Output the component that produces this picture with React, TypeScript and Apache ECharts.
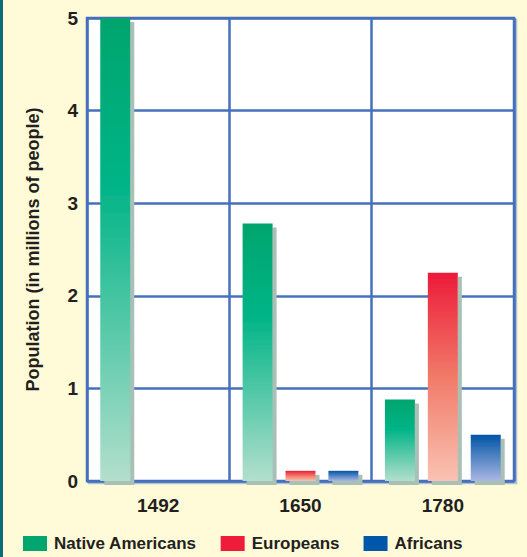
import React, { useEffect, useRef } from "react";
import * as echarts from "echarts";

const years = ["1492", "1650", "1780"];
const nativeAmericans = [5.0, 2.78, 0.88];
const europeans = [0, 0.11, 2.25];
const africans = [0, 0.11, 0.5];
const yTicks = [0, 1, 2, 3, 4, 5];
const yTitle = "Population (in millions of people)";

const FONT = "'Liberation Sans', Arial, sans-serif";
const TEXT = "#231f20";

function grad(stops: [number, string][]) {
  return new echarts.graphic.LinearGradient(
    0, 0, 0, 1,
    stops.map(([offset, color]) => ({ offset, color }))
  );
}

export default function App() {
  const ref = useRef<HTMLDivElement>(null);
  useEffect(() => {
    if (!ref.current) return;
    const chart = echarts.init(ref.current, null, { renderer: "svg" });
    const barCommon = {
      type: "bar" as const,
      barWidth: 30,
      barGap: "43%",
    };
    const shadow = {
      shadowColor: "#a9c0b7",
      shadowOffsetX: 4,
      shadowOffsetY: 4,
      shadowBlur: 0,
    };
    chart.setOption({
      animation: false,
      backgroundColor: "#fffad7",
      graphic: [
        {
          type: "rect",
          left: 0,
          top: 0,
          shape: { width: 3, height: 557 },
          style: { fill: "#0d6b78" },
          z: 100,
        },
      ],
      grid: {
        left: 87,
        right: 13,
        top: 18,
        bottom: 76,
        show: true,
        backgroundColor: "#ffffff",
        borderColor: "#4571bb",
        borderWidth: 2.5,
        shadowColor: "rgba(120,150,210,0.6)",
        shadowOffsetX: 2,
        shadowOffsetY: 2,
        shadowBlur: 0,
      },
      legend: {
        left: 23,
        top: 535,
        padding: 0,
        itemWidth: 24,
        itemHeight: 15,
        itemGap: 24,
        icon: "rect",
        textStyle: {
          fontFamily: FONT,
          fontWeight: "bold",
          fontSize: 17,
          color: TEXT,
          padding: [0, 0, 0, 2],
        },
        data: [
          { name: "Native Americans", itemStyle: { color: "#00a66e" } },
          { name: "Europeans", itemStyle: { color: "#ee1c3a" } },
          { name: "Africans", itemStyle: { color: "#0056a8" } },
        ],
      },
      xAxis: {
        type: "category",
        data: years,
        axisLine: { show: false },
        axisTick: { show: false },
        axisLabel: {
          margin: 15,
          fontFamily: FONT,
          fontWeight: "bold",
          fontSize: 19,
          color: TEXT,
        },
        splitLine: {
          show: true,
          lineStyle: { color: "#4571bb", width: 2.5 },
        },
      },
      yAxis: {
        type: "value",
        min: yTicks[0],
        max: yTicks[yTicks.length - 1],
        interval: 1,
        name: yTitle,
        nameLocation: "middle",
        nameRotate: 90,
        nameGap: 45,
        nameTextStyle: {
          fontFamily: FONT,
          fontWeight: "bold",
          fontSize: 18,
          color: TEXT,
          padding: [0, 0, 0, 0],
        },
        axisLine: { show: false },
        axisTick: { show: false },
        axisLabel: {
          margin: 9,
          fontFamily: FONT,
          fontWeight: "bold",
          fontSize: 19,
          color: TEXT,
        },
        splitLine: {
          show: true,
          lineStyle: { color: "#4571bb", width: 2.5 },
        },
      },
      series: [
        {
          ...barCommon,
          name: "Native Americans",
          data: nativeAmericans,
          itemStyle: {
            ...shadow,
            color: grad([
              [0, "#00a56d"],
              [0.36, "#00b487"],
              [1, "#b3dfcd"],
            ]),
          },
        },
        {
          ...barCommon,
          name: "Europeans",
          data: europeans,
          itemStyle: {
            ...shadow,
            color: grad([
              [0, "#ed1a3a"],
              [0.5, "#f17a68"],
              [1, "#f9c3b3"],
            ]),
          },
        },
        {
          ...barCommon,
          name: "Africans",
          data: africans,
          itemStyle: {
            ...shadow,
            color: grad([
              [0, "#0054a6"],
              [1, "#abb7e3"],
            ]),
          },
        },
      ],
    });
    return () => chart.dispose();
  }, []);
  return (
    <div
      ref={ref}
      style={{ position: "fixed", left: 0, top: 0, width: 527, height: 557 }}
    />
  );
}
